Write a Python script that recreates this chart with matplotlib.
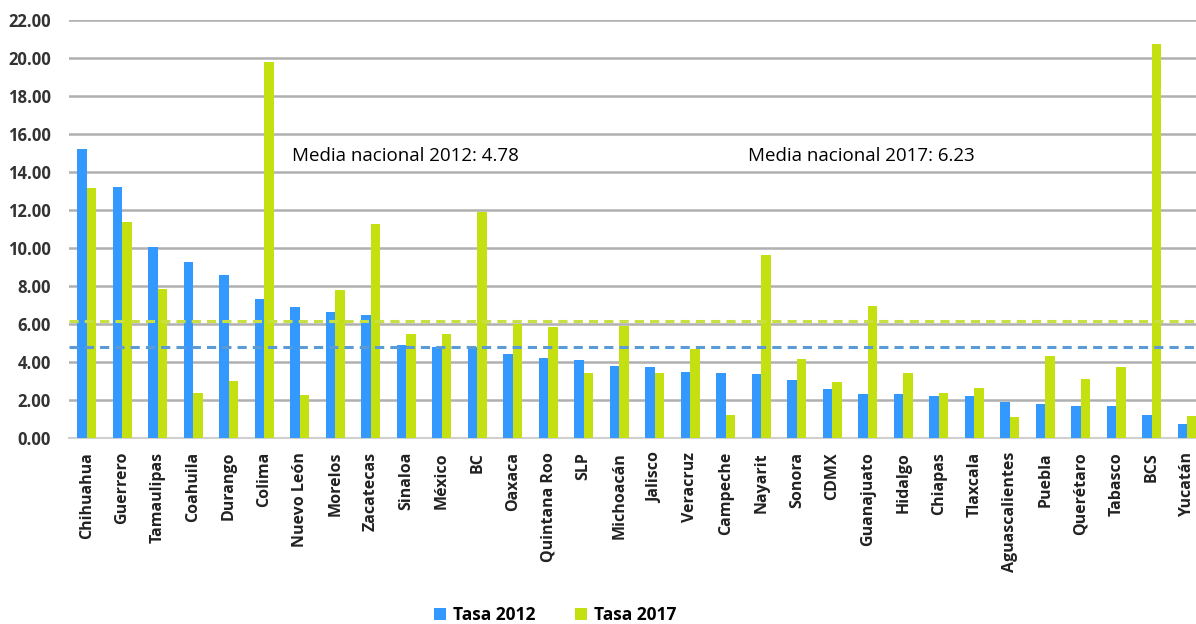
import matplotlib
matplotlib.use('Agg')
import matplotlib.pyplot as plt
import numpy as np

estados = ['Chihuahua', 'Guerrero', 'Tamaulipas', 'Coahuila', 'Durango', 'Colima',
           'Nuevo León', 'Morelos', 'Zacatecas', 'Sinaloa', 'México', 'BC', 'Oaxaca',
           'Quintana Roo', 'SLP', 'Michoacán', 'Jalisco', 'Veracruz', 'Campeche',
           'Nayarit', 'Sonora', 'CDMX', 'Guanajuato', 'Hidalgo', 'Chiapas', 'Tlaxcala',
           'Aguascalientes', 'Puebla', 'Querétaro', 'Tabasco', 'BCS', 'Yucatán']
tasa_2012 = [15.19, 13.20, 10.05, 9.26, 8.58, 7.32, 6.89, 6.63, 6.47, 4.89, 4.81, 4.81,
             4.42, 4.21, 4.10, 3.79, 3.73, 3.47, 3.44, 3.36, 3.05, 2.58, 2.32, 2.32,
             2.22, 2.20, 1.89, 1.79, 1.70, 1.68, 1.20, 0.74]
tasa_2017 = [13.18, 11.37, 7.86, 2.37, 3.02, 19.80, 2.26, 7.78, 11.26, 5.47, 5.47, 11.91,
             6.00, 5.84, 3.42, 5.91, 3.42, 4.68, 1.23, 9.63, 4.16, 2.97, 6.93, 3.44,
             2.37, 2.63, 1.10, 4.30, 3.10, 3.74, 20.74, 1.16]
media_2012 = 4.78
media_2017 = 6.23
linea_2017 = 6.14  # as drawn in the source chart

azul = '#3399FF'
verde = '#C5E011'

fig = plt.figure(figsize=(11.96, 6.24), dpi=100)
ax = fig.add_axes([69/1196, 186/624, 1136/1196, 418/624])

x = np.arange(len(estados))
w = 0.27
ax.bar(x - w/2, tasa_2012, w, color=azul, label='Tasa 2012', zorder=3)
ax.bar(x + w/2, tasa_2017, w, color=verde, label='Tasa 2017', zorder=3)

ax.axhline(media_2012, color='#5B9BD5', lw=2.2, ls=(0, (3, 2)), zorder=4)
ax.axhline(linea_2017, color='#C8E040', lw=2.2, ls=(0, (3, 2)), zorder=4)

ax.text(5.78, 14.85, f'Media nacional 2012: {media_2012:.2f}', fontsize=13.5,
        family='Open Sans', va='center', ha='left')
ax.text(18.63, 14.85, f'Media nacional 2017: {media_2017:.2f}', fontsize=13.5,
        family='Open Sans', va='center', ha='left')

ax.set_xlim(-0.5, len(estados) - 0.5)
ax.set_ylim(0, 22)
ax.set_yticks(np.arange(0, 23, 2))
ax.set_yticklabels([f'{v:.2f}' for v in np.arange(0, 23, 2)],
                   fontsize=12, fontweight='bold', color='#333333', family='Open Sans')
ax.set_xticks(x)
ax.set_xticklabels(estados, rotation=90, fontsize=11.5, fontweight='bold',
                   color='#222222', family='Open Sans', va='top', ha='center')
ax.tick_params(axis='both', length=0)
ax.tick_params(axis='x', pad=10)
ax.tick_params(axis='y', pad=13)

ax.grid(axis='y', color='#B0B0B0', lw=1.8, zorder=0)
for s in ['top', 'right', 'left']:
    ax.spines[s].set_visible(False)
ax.spines['bottom'].set_color('#D0D0D0')
ax.spines['bottom'].set_linewidth(1.5)

fig.legend(loc='center', bbox_to_anchor=(555/1196, 1 - 615/624), ncol=2, frameon=False,
           prop={'family': 'Open Sans', 'weight': 'bold', 'size': 12.5},
           handlelength=0.7, handleheight=0.7, handletextpad=0.4, columnspacing=2.3)

fig.savefig('out.png', dpi=100)
